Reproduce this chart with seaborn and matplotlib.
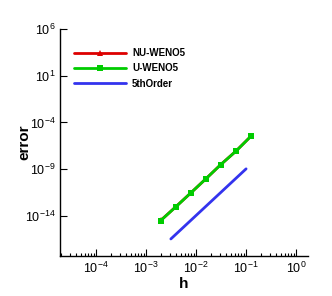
import numpy as np
import pandas as pd
import matplotlib
matplotlib.use('Agg')
import matplotlib.pyplot as plt
import matplotlib.ticker as mticker
import seaborn as sns

sns.set_style('ticks', {'axes.edgecolor': 'black', 'text.color': 'black',
                        'axes.labelcolor': 'black', 'xtick.color': 'black',
                        'ytick.color': 'black'})
plt.rcParams['font.family'] = ['Liberation Sans', 'DejaVu Sans']
plt.rcParams['mathtext.fontset'] = 'custom'
plt.rcParams['mathtext.rm'] = 'Liberation Sans'

# grid spacing and errors
h = [1/512, 1/256, 1/128, 1/64, 1/32, 1/16, 1/8]
err_nu = [3.3e-15, 9.5e-14, 2.9e-12, 9.3e-11, 3.2e-9, 8.6e-8, 3.4e-6]
err_u = [3.2e-15, 9.3e-14, 2.9e-12, 9.3e-11, 3.2e-9, 8.5e-8, 3.4e-6]
h_ref = [3.125e-3, 0.1]
err_ref = [3.5e-17, 1.1e-9]

nu = pd.DataFrame({'h': h, 'error': err_nu})
u = pd.DataFrame({'h': h, 'error': err_u})
ref = pd.DataFrame({'h': h_ref, 'error': err_ref})

fig = plt.figure(figsize=(3.32, 2.96), dpi=100)
ax = fig.add_axes([0.181, 0.135, 0.747, 0.767])

sns.lineplot(data=nu, x='h', y='error', ax=ax, color='#dd0000', lw=2,
             marker='^', markersize=4.5, markeredgewidth=0, label='NU-WENO5')
sns.lineplot(data=u, x='h', y='error', ax=ax, color='#00cc00', lw=2,
             marker='s', markersize=4.5, markeredgewidth=0, label='U-WENO5')
sns.lineplot(data=ref, x='h', y='error', ax=ax, color='#3333ee', lw=2,
             label='5thOrder')

ax.set_xscale('log')
ax.set_yscale('log')
ax.set_xlim(1.9e-5, 1.74)
ax.set_ylim(5.2e-19, 1e6)

ax.yaxis.set_major_locator(mticker.FixedLocator([1e-14, 1e-9, 1e-4, 1e1, 1e6]))
ax.yaxis.set_minor_locator(mticker.NullLocator())
ax.xaxis.set_major_locator(mticker.LogLocator(base=10, numticks=10))
ax.xaxis.set_minor_locator(mticker.LogLocator(base=10, subs=np.arange(2, 10), numticks=20))
ax.xaxis.set_minor_formatter(mticker.NullFormatter())

ax.tick_params(which='both', direction='in', labelsize=9, width=0.8, colors='black')
ax.tick_params(which='major', length=5)
ax.tick_params(which='minor', length=2.5)
sns.despine(ax=ax)
for s in ['left', 'bottom']:
    ax.spines[s].set_linewidth(1)
    ax.spines[s].set_color('black')

ax.set_xlabel('h', fontsize=11, fontweight='bold', labelpad=1)
ax.set_ylabel('error', fontsize=11, fontweight='bold', labelpad=-5)

leg = ax.legend(loc='upper left', bbox_to_anchor=(0.02, 0.955), frameon=False,
                handlelength=5.4, handletextpad=0.6, labelspacing=0.55,
                prop={'weight': 'bold', 'size': 7})

fig.savefig('out.png', dpi=100)
